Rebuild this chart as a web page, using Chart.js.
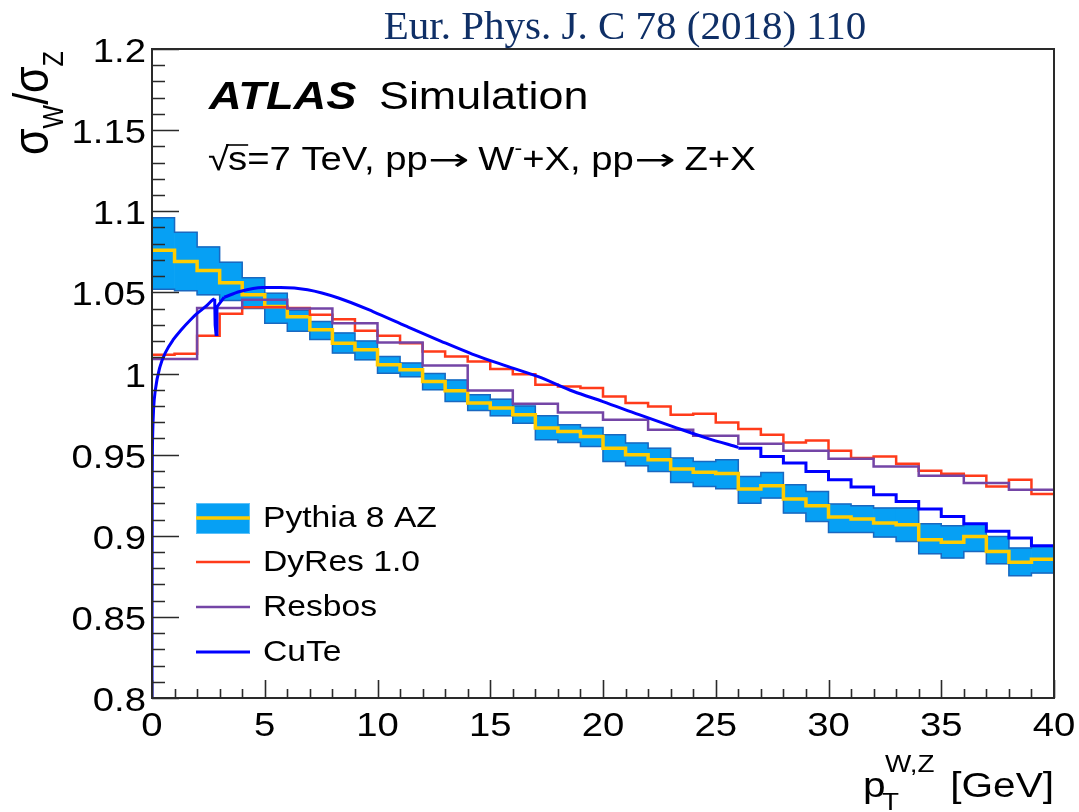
<!DOCTYPE html>
<html>
<head>
<meta charset="utf-8">
<title>W/Z cross-section ratio vs pT</title>
<script src="https://cdn.jsdelivr.net/npm/chart.js@4.4.1/dist/chart.umd.min.js"></script>
<style>
  html, body { margin: 0; padding: 0; background: #ffffff; }
  #wrap { width: 1079px; height: 812px; position: relative; }
</style>
</head>
<body>
<div id="wrap"><canvas id="c" width="1079" height="812"></canvas></div>
<script>
// ---- data: sigma_W / sigma_Z versus pT (GeV) ----
const binEdges = [0,1,2,3,4,5,6,7,8,9,10,11,12,13,14,15,16,17,18,19,20,
                  21,22,23,24,25,26,27,28,29,30,31,32,33,34,35,36,37,38,39,40];

const pythiaCentral = [1.076,1.069,1.0635,1.056,1.0485,1.0413,1.035,1.027,1.0187,1.0146,
                       1.0054,1.0023,0.9951,0.9893,0.9818,0.9787,0.9746,0.9664,0.9643,0.9612,
                       0.954,0.9499,0.9468,0.9411,0.9391,0.9384,0.9288,0.9308,0.9226,0.9185,
                       0.9115,0.9103,0.9078,0.9068,0.8975,0.896,0.8996,0.8903,0.8836,0.8855];
const pythiaUp = [1.096,1.087,1.078,1.0686,1.059,1.0495,1.039,1.032,1.025,1.020,
                  1.0105,1.0064,1.000,0.996,0.9869,0.9842,0.980,0.9739,0.9684,0.9667,
                  0.9622,0.9571,0.954,0.9479,0.9458,0.9468,0.9365,0.939,0.9314,0.9273,
                  0.9195,0.9185,0.9171,0.9171,0.9074,0.9062,0.9074,0.8996,0.8924,0.8934];
const pythiaDown = [1.052,1.051,1.0485,1.045,1.040,1.031,1.026,1.021,1.0126,1.0084,
                    1.0002,0.998,0.990,0.9827,0.9772,0.9739,0.9694,0.9592,0.9575,0.955,
                    0.9458,0.9431,0.9396,0.9328,0.9304,0.929,0.9201,0.9232,0.914,0.9088,
                    0.902,0.902,0.8992,0.8965,0.8889,0.8863,0.8903,0.8827,0.8754,0.877];

const dyres = [1.0115,1.0121,1.0232,1.0368,1.0409,1.0409,1.0403,1.0362,1.0335,1.0263,
               1.0232,1.0187,1.0136,1.0105,1.0074,1.0027,0.9996,0.993,0.992,0.991,
               0.9858,0.9818,0.9797,0.9746,0.9752,0.9698,0.9658,0.9622,0.9575,0.9587,
               0.9524,0.9479,0.9489,0.9444,0.940,0.9382,0.937,0.9304,0.9345,0.9257];

const resbosEdges = [0,2,4,6,8,10,12,14,16,18,20,22,24,26,28,30,32,34,36,38,40];
const resbos = [1.0089,1.0403,1.0454,1.0400,1.031,1.0191,1.005,0.9895,0.9813,0.976,
                0.9715,0.9653,0.9616,0.9567,0.9524,0.9474,0.9427,0.937,0.9325,0.9283];

// CuTe: smooth at low pT (with the small glitch near 2.8 GeV), 1 GeV steps above 26 GeV
const cuteRiseX = [0,0.01,0.03,0.07,0.15,0.35,0.6,0.95,1.3,1.7,2.0,2.4,2.7,2.78];
const cuteRiseY = [0.80,0.93,0.962,0.978,0.99,1.004,1.013,1.021,1.027,1.033,1.037,1.0415,1.0455,1.046];
const cuteGlitchX = [2.78,2.8,2.84,2.88,3.2];
const cuteGlitchY = [1.046,1.030,1.024,1.041,1.047];
const cuteTailX = [3.2,3.9,4.9,5.7,6.9,8.3,9.8,11.3,12.8,14.2,15.7,17.1,18.7,20.0,21.6,23.1,24.6,26.0];
const cuteTailY = [1.047,1.0505,1.053,1.053,1.0516,1.0464,1.0382,1.029,1.020,1.012,1.0047,0.9982,0.9889,0.9827,0.9746,0.9673,0.9602,0.9545];
const cuteStepEdges = [26,27,28,29,30,31,32,33,34,35,36,37,38,39,40];
const cuteStep = [0.954,0.9489,0.9448,0.9396,0.9345,0.930,0.9253,0.9211,0.9165,0.9119,0.9074,0.9027,0.8986,0.8938];

const seriesNames = ['Pythia 8 AZ', 'DyRes 1.0', 'Resbos', 'CuTe'];
const xTickLabels = ['0','5','10','15','20','25','30','35','40'];
const yTickLabels = ['0.8','0.85','0.9','0.95','1','1.05','1.1','1.15','1.2'];

// ---- styling ----
const SANS = '"Liberation Sans", Arial, Helvetica, sans-serif';
const SERIF = '"Liberation Serif", "Times New Roman", serif';
const SX = 1.16;               // horizontal widening of the Helvetica texts
const COL = {
  band: '#06a0f4', bandEdge: '#1a68c0', central: '#ffcc00',
  dyres: '#ff3b1a', resbos: '#7445a6', cute: '#0000ff', frame: '#2a2a2a'
};

// histogram outline as a polyline: each bin contributes its two corners
function histPoints(edges, vals) {
  const pts = [];
  for (let i = 0; i < vals.length; i++) {
    pts.push({ x: edges[i], y: vals[i] });
    pts.push({ x: edges[i + 1], y: vals[i] });
  }
  return pts;
}
function xyPoints(xs, ys) { return xs.map((x, i) => ({ x, y: ys[i] })); }

const bandBars = pythiaUp.map((u, i) => ({
  x: (binEdges[i] + binEdges[i + 1]) / 2, y: [pythiaDown[i], u]
}));

function lineSet(label, data, color, width, order, smooth) {
  const ds = {
    type: 'line', label, data, borderColor: color, borderWidth: width,
    pointRadius: 0, pointHoverRadius: 0, fill: false, tension: 0,
    borderJoinStyle: 'miter', borderCapStyle: 'butt', order
  };
  if (smooth) { ds.cubicInterpolationMode = 'monotone'; ds.borderJoinStyle = 'round'; }
  return ds;
}

// ---- text helpers ----
function textRuns(ctx, x, y, runs, sx) {
  let cx = x;
  for (const r of runs) {
    const rsx = r.sx || sx;
    ctx.save();
    ctx.font = r.font;
    ctx.fillStyle = r.color || '#000';
    ctx.textAlign = 'left';
    ctx.textBaseline = 'alphabetic';
    const px = r.x !== undefined ? r.x : cx;
    ctx.translate(px, y + (r.dy || 0));
    ctx.scale(rsx, 1);
    ctx.fillText(r.t, 0, 0);
    const w = ctx.measureText(r.t).width * rsx;
    ctx.restore();
    if (!r.noAdvance) cx = px + w + (r.gap || 0);
  }
  return cx;
}
function sText(ctx, str, x, y, font, align, sx) {
  ctx.save();
  ctx.font = font;
  const w = ctx.measureText(str).width * sx;
  const x0 = align === 'right' ? x - w : align === 'center' ? x - w / 2 : x;
  ctx.translate(x0, y);
  ctx.scale(sx, 1);
  ctx.textAlign = 'left';
  ctx.textBaseline = 'alphabetic';
  ctx.fillStyle = '#000';
  ctx.fillText(str, 0, 0);
  ctx.restore();
}

// frame, inward ticks, tick labels, annotations and legend
const decorations = {
  id: 'decorations',
  afterDraw(chart) {
    const ctx = chart.ctx;
    const a = chart.chartArea;
    const xs = chart.scales.x, ys = chart.scales.y;

    // ticks
    ctx.save();
    ctx.strokeStyle = COL.frame;
    ctx.lineWidth = 1.6;
    ctx.beginPath();
    for (let k = 0; k <= 40; k++) {
      const v = 0.8 + k * 0.01;
      const py = Math.round(ys.getPixelForValue(v)) + 0.5;
      const len = (k % 5 === 0) ? 27 : 13;
      ctx.moveTo(a.left, py); ctx.lineTo(a.left + len, py);
    }
    for (let k = 0; k <= 40; k++) {
      const px = Math.round(xs.getPixelForValue(k)) + 0.5;
      const len = (k % 5 === 0) ? 18 : 9;
      ctx.moveTo(px, a.bottom); ctx.lineTo(px, a.bottom - len);
    }
    ctx.stroke();
    // frame
    ctx.lineWidth = 2;
    ctx.strokeRect(a.left, a.top, a.right - a.left, a.bottom - a.top);
    ctx.restore();

    // tick labels
    const tickFont = '33px ' + SANS;
    ys.ticks.forEach((t, i) => {
      const py = ys.getPixelForValue(t.value);
      sText(ctx, yTickLabels[i], a.left - 6, py + 13, tickFont, 'right', SX);
    });
    xs.ticks.forEach((t, i) => {
      const px = xs.getPixelForValue(t.value);
      sText(ctx, xTickLabels[i], px, 736, tickFont, 'center', SX);
    });

    // publication reference
    ctx.save();
    ctx.font = '41px ' + SERIF;
    ctx.fillStyle = '#0f2f66';
    ctx.textAlign = 'center';
    ctx.textBaseline = 'alphabetic';
    ctx.fillText('Eur. Phys. J. C 78 (2018) 110', 625, 39);
    ctx.restore();

    // experiment label
    textRuns(ctx, 209, 109, [{ t: 'ATLAS', font: 'italic bold 38px ' + SANS }], 1.19);
    textRuns(ctx, 379, 109, [{ t: 'Simulation', font: '38px ' + SANS }], 1.18);

    // process line with a drawn radical bar over "s"
    const f2 = '33px ' + SANS;
    const fArrow = '31px "DejaVu Sans", ' + SANS;
    ctx.save(); ctx.font = f2;
    const rootTop = ctx.measureText('\u221A').actualBoundingBoxAscent;
    ctx.restore();
    const afterRoot = textRuns(ctx, 208, 170, [{ t: '\u221A', font: f2 }], SX);
    const afterS = textRuns(ctx, afterRoot - 1, 170, [{ t: 's', font: f2 }], SX);
    ctx.save();
    ctx.strokeStyle = '#000'; ctx.lineWidth = 1.6;
    ctx.beginPath();
    ctx.moveTo(afterRoot - 3, 170 - rootTop + 1);
    ctx.lineTo(afterS + 1, 170 - rootTop + 1);
    ctx.stroke();
    ctx.restore();
    textRuns(ctx, afterS, 170, [
      { t: '=7 TeV, pp', font: f2 },
      { t: '\u2192', font: fArrow, sx: 1.6, gap: 9 },
      { t: 'W', font: f2 },
      { t: '-', font: '20px ' + SANS, dy: -15 },
      { t: '+X, pp', font: f2 },
      { t: '\u2192', font: fArrow, sx: 1.6, gap: 9 },
      { t: 'Z+X', font: f2 }
    ], SX);

    // x axis title
    textRuns(ctx, 863, 797, [
      { t: 'p', font: '35px ' + SANS },
      { t: 'T', font: '24px ' + SANS, dy: 13, x: 882, noAdvance: true },
      { t: 'W,Z', font: '24px ' + SANS, dy: -25, x: 885 }
    ], SX);
    sText(ctx, '[GeV]', 1054, 797, '35px ' + SANS, 'right', SX);

    // y axis title (rotated)
    ctx.save();
    ctx.translate(48, 155);
    ctx.scale(SX, 1);
    ctx.rotate(-Math.PI / 2);
    let tx = 0;
    const yRuns = [
      { t: '\u03C3', f: '43px ' + SANS, dy: 0 },
      { t: 'W', f: '25px ' + SANS, dy: 13 },
      { t: '/', f: '43px ' + SANS, dy: 0 },
      { t: '\u03C3', f: '43px ' + SANS, dy: 0 },
      { t: 'Z', f: '25px ' + SANS, dy: 13 }
    ];
    ctx.fillStyle = '#000';
    ctx.textBaseline = 'alphabetic';
    for (const r of yRuns) {
      ctx.font = r.f;
      ctx.fillText(r.t, tx, r.dy);
      tx += ctx.measureText(r.t).width;
    }
    ctx.restore();

    // legend
    const lx0 = 196, lx1 = 250, ltx = 263;
    const rows = [518, 562, 607, 652];
    const lf = '29px ' + SANS;
    ctx.save();
    ctx.fillStyle = COL.band;
    ctx.fillRect(lx0, 503, lx1 - lx0, 31);
    ctx.strokeStyle = '#5cc0f8'; ctx.lineWidth = 1;
    ctx.strokeRect(lx0 + 0.5, 503.5, lx1 - lx0 - 1, 30);
    const legendLines = [
      [COL.central, 3.5], [COL.dyres, 2.5], [COL.resbos, 2.5], [COL.cute, 3]
    ];
    legendLines.forEach(([c, w], i) => {
      ctx.strokeStyle = c; ctx.lineWidth = w;
      ctx.beginPath(); ctx.moveTo(lx0, rows[i]); ctx.lineTo(lx1, rows[i]); ctx.stroke();
    });
    ctx.restore();
    seriesNames.forEach((n, i) => sText(ctx, n, ltx, rows[i] + 9, lf, 'left', SX));
  }
};

new Chart(document.getElementById('c'), {
  type: 'line',
  data: {
    datasets: [
      { type: 'bar', label: seriesNames[0] + ' band', data: bandBars,
        backgroundColor: COL.band, borderWidth: 0,
        categoryPercentage: 1, barPercentage: 1, order: 6 },
      lineSet('band up', histPoints(binEdges, pythiaUp), COL.bandEdge, 1.5, 5),
      lineSet('band down', histPoints(binEdges, pythiaDown), COL.bandEdge, 1.5, 5),
      lineSet(seriesNames[0], histPoints(binEdges, pythiaCentral), COL.central, 3.5, 4),
      lineSet(seriesNames[1], histPoints(binEdges, dyres), COL.dyres, 2.5, 3),
      lineSet(seriesNames[2], histPoints(resbosEdges, resbos), COL.resbos, 2.5, 2),
      lineSet(seriesNames[3], xyPoints(cuteRiseX, cuteRiseY), COL.cute, 3, 1, true),
      lineSet(seriesNames[3], xyPoints(cuteGlitchX, cuteGlitchY), COL.cute, 3, 1),
      lineSet(seriesNames[3], xyPoints(cuteTailX, cuteTailY), COL.cute, 3, 1, true),
      lineSet(seriesNames[3], histPoints(cuteStepEdges, cuteStep), COL.cute, 3, 1)
    ]
  },
  options: {
    responsive: false,
    animation: false,
    events: [],
    layout: { padding: { top: 49, right: 25, left: 0, bottom: 0 } },
    plugins: { legend: { display: false }, tooltip: { enabled: false }, title: { display: false } },
    scales: {
      x: {
        type: 'linear', min: 0, max: 40, offset: false,
        grid: { display: false, drawTicks: false }, border: { display: false },
        ticks: { display: false, stepSize: 5 },
        afterFit(s) { s.height = 114; }
      },
      y: {
        type: 'linear', min: 0.8, max: 1.2,
        grid: { display: false, drawTicks: false }, border: { display: false },
        ticks: { display: false, stepSize: 0.05 },
        afterFit(s) { s.width = 152; }
      }
    }
  },
  plugins: [decorations]
});
</script>
</body>
</html>
